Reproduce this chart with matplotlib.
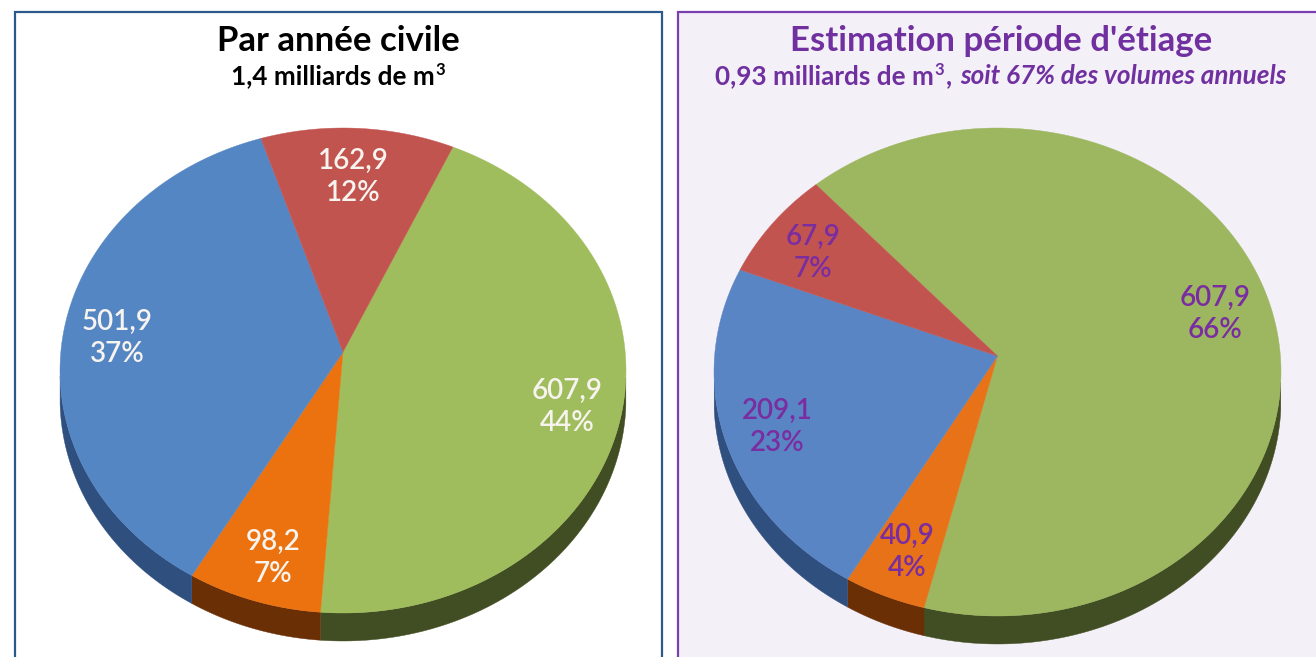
import numpy as np
import matplotlib
matplotlib.use("Agg")
import matplotlib.pyplot as plt
from matplotlib.patches import Polygon, Rectangle

# --- data ---
left_values = [607.9, 98.2, 501.9, 162.9]
left_labels = ["607,9\n44%", "98,2\n7%", "501,9\n37%", "162,9\n12%"]
right_values = [607.9, 40.9, 209.1, 67.9]
right_labels = ["607,9\n66%", "40,9\n4%", "209,1\n23%", "67,9\n7%"]
top_colors_left = ["#9fbd5c", "#ec7210", "#5586c4", "#c25450"]
top_colors_right = ["#9db660", "#e77218", "#5a85c4", "#c25450"]
side_colors = ["#414d22", "#6b2f06", "#2f4f7f", "#6e2a28"]

W, H = 1316, 657
plt.rcParams["font.family"] = ["Lato", "DejaVu Sans"]
fig = plt.figure(figsize=(W / 100, H / 100), dpi=100, facecolor="white")
ax = fig.add_axes([0, 0, 1, 1])
ax.set_xlim(0, W)
ax.set_ylim(H, 0)
ax.axis("off")


def project(theta, apex, top, bottom, rx):
    """Clockwise angle from north on a disc, seen in perspective."""
    cx, cy = apex
    T, Bt = cy - top, bottom - cy
    k = (T - Bt) / (T + Bt)
    B = T * (1 - k)
    A = rx * np.sqrt(1 - k ** 2)
    x, y = np.sin(theta), np.cos(theta)
    d = 1 - k * y
    return cx + A * x / d, cy - B * y / d


def draw_pie(values, start, apex, top, bottom, rx, depth, colors):
    fr = np.array(values) / np.sum(values)
    edges = np.radians(start) + 2 * np.pi * np.concatenate([[0], np.cumsum(fr)])
    for i, c in enumerate(colors):
        th = np.linspace(edges[i], edges[i + 1], 300)
        arc = np.column_stack(project(th, apex, top, bottom, rx))
        ax.add_patch(Polygon(np.vstack([[apex], arc]), closed=True, fc=c, ec=c, lw=0.3, zorder=3))
        front = arc[np.cos(th) < -0.1]
        if len(front) > 1:
            low = front + [0, depth]
            s = side_colors[i]
            ax.add_patch(Polygon(np.vstack([front, low[::-1]]), closed=True, fc=s, ec=s, lw=0.3, zorder=2))


def chain(x, y, parts):
    """Write (text, fontsize, raise, style) pieces one after the other from x on the baseline y."""
    for s, size, rise, style in parts:
        t = ax.text(x, y - rise, s, color=chain.color, fontsize=size, fontweight="bold",
                    fontstyle=style, ha="left", va="baseline")
        fig.canvas.draw()
        x = t.get_window_extent().x1 + chain.gap


# panels
ax.add_patch(Rectangle((14.5, 11.5), 647, 700, fc="white", ec="#2a5a8c", lw=1.6, zorder=1))
ax.add_patch(Rectangle((677.5, 11.5), 700, 700, fc="#f3f0f8", ec="#7b3fb0", lw=1.6, zorder=1))

draw_pie(left_values, 24.6, (343, 352), 128, 613, 283, 28, top_colors_left)
draw_pie(right_values, -42.3, (997.5, 356), 128, 616, 283.5, 28, top_colors_right)

# pie labels
left_pos = [(567, 407), (273, 558), (117, 338), (353, 177)]
right_pos = [(1215, 314), (907, 552), (777, 427), (813, 253)]
for s, p in zip(left_labels, left_pos):
    ax.text(*p, s, color="#f7f3ee", fontsize=20, fontweight="semibold", ha="center", va="center",
            linespacing=1.32, zorder=5)
for s, p in zip(right_labels, right_pos):
    ax.text(*p, s, color="#7a2da0", fontsize=20, fontweight="semibold", ha="center", va="center",
            linespacing=1.32, zorder=5)

# titles
purple = "#7030a0"
ax.text(338, 41, "Par année civile", color="black", fontsize=25, fontweight="bold", ha="center", va="center")
ax.text(1001, 41, "Estimation période d'étiage", color=purple, fontsize=25, fontweight="bold", ha="center", va="center")

chain.gap = 1
chain.color = "black"
chain(231, 84, [("1,4 milliards de m", 18.8, 0, "normal"), ("3", 12, 9, "normal")])
chain.color = purple
chain(715, 84, [("0,93 milliards de m", 18.8, 0, "normal"), ("3", 12, 9, "normal"),
                (",", 18.8, 0, "normal")])
ax.text(960, 84, "soit 67% des volumes annuels", color=purple, fontsize=18.8, fontweight="bold",
        fontstyle="italic", ha="left", va="baseline")

fig.savefig("out.png", dpi=100)
